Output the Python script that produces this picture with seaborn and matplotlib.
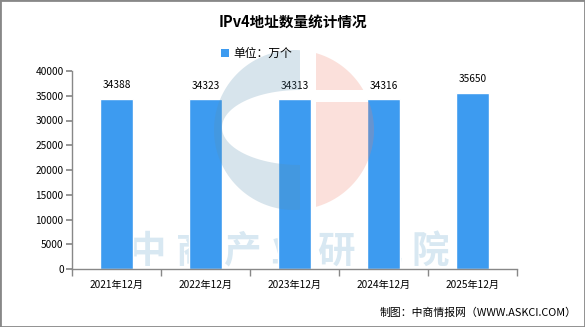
import matplotlib
matplotlib.use("Agg")
import matplotlib.pyplot as plt
import seaborn as sns
import pandas as pd
import numpy as np
from matplotlib.patches import Rectangle, Polygon

categories = ["2021年12月", "2022年12月", "2023年12月", "2024年12月", "2025年12月"]
values = [34388, 34323, 34313, 34316, 35650]
yticks = [0, 5000, 10000, 15000, 20000, 25000, 30000, 35000, 40000]
watermark = "中商产业研究院"

sns.set_theme(style="white")
plt.rcParams['font.family'] = ['Noto Sans CJK SC', 'DejaVu Sans']

df = pd.DataFrame({"cat": categories, "val": values})
fig = plt.figure(figsize=(5.85, 3.27), dpi=100)
fig.patch.set_facecolor("white")

# background watermark text
bg = fig.add_axes([0, 0, 1, 1], zorder=0)
bg.set_xlim(0, 585); bg.set_ylim(327, 0); bg.axis("off")
for k, ch in enumerate(watermark):
    bg.text(148 + 47 * k, 251, ch, fontsize=27, color="#d8e8f2", ha="center", va="center", fontweight="bold")

ax = fig.add_axes([72/585, 1-269/327, (517-72)/585, (269-71)/327], zorder=1)
ax.patch.set_alpha(0)
sns.barplot(data=df, x="cat", y="val", color="#3d9bf0", width=0.37, saturation=1, ax=ax, zorder=2)

ax.set_ylim(0, 40000)
ax.set_yticks(yticks)
ax.set_yticklabels([str(v) for v in yticks])
ax.set_xlim(-0.5, len(categories) - 0.5)
ax.set_xlabel(""); ax.set_ylabel("")
for s in ["top", "right"]:
    ax.spines[s].set_visible(False)
for s in ["left", "bottom"]:
    ax.spines[s].set_color("#888888")
    ax.spines[s].set_linewidth(1)
ax.tick_params(axis="y", which="both", left=True, length=4, color="#888888", labelsize=7.3, pad=2, labelcolor="black")
ax.set_xticks(range(len(categories)))
ax.set_xticklabels(categories, fontsize=7.3, color="black")
ax.tick_params(axis="x", which="major", length=0, pad=8)
ax.set_xticks([i - 0.5 for i in range(len(categories) + 1)], minor=True)
ax.tick_params(axis="x", which="minor", bottom=True, length=5, color="#888888")
ax.grid(False)

for i, v in enumerate(values):
    ax.text(i, v + 1700, str(v), ha="center", va="bottom", fontsize=7.3, color="black")

# overlay logo (semi-transparent, on top of bars)
ov = fig.add_axes([0, 0, 1, 1], zorder=3)
ov.set_xlim(0, 585); ov.set_ylim(327, 0); ov.axis("off"); ov.patch.set_alpha(0)
cx, cy, r = 294, 130, 80
t1 = np.degrees(np.arccos((300 - cx) / r))
th = np.radians(np.linspace(t1, 360 - t1, 80))
outer = np.column_stack([cx + r * np.cos(th), cy - r * np.sin(th)])
ph = np.radians(np.linspace(270, 90, 60))
ex, ey, ea, eb = 300, 127.5, 78, 37.5
inner = np.column_stack([ex + ea * np.cos(ph), ey - eb * np.sin(ph)])
blue_poly = np.vstack([outer, inner])
ov.add_patch(Polygon(blue_poly, closed=True, facecolor="#5a8fb0", alpha=0.24, edgecolor="none"))
def pink_piece(y0, y1):
    ys = np.linspace(y0, y1, 60)
    xs = cx + np.sqrt(np.clip(r**2 - (ys - cy)**2, 0, None))
    return np.vstack([[316, y0], np.column_stack([xs, ys]), [316, y1]])
ov.add_patch(Polygon(pink_piece(cy - np.sqrt(r**2 - 22**2), 90), closed=True, facecolor="#f0806a", alpha=0.24, edgecolor="none"))
ov.add_patch(Polygon(pink_piece(102, cy + np.sqrt(r**2 - 22**2)), closed=True, facecolor="#f0806a", alpha=0.24, edgecolor="none"))

fig.text(0.5, 1-22/327, "IPv4地址数量统计情况", ha="center", va="center", fontsize=10.5, fontweight="bold", color="black", zorder=5)
fig.add_artist(Rectangle((221/585, 1-57/327), 8/585, 8/327, transform=fig.transFigure, facecolor="#3d9bf0", edgecolor="none", zorder=5))
fig.text(233/585, 1-53/327, "单位：万个", ha="left", va="center", fontsize=8.5, color="black", zorder=5)
fig.text(577/585, 1-313/327, "制图：中商情报网（WWW.ASKCI.COM）", ha="right", va="center", fontsize=7.8, color="black", zorder=5)

fig.add_artist(Rectangle((0, 0), 1, 1, transform=fig.transFigure, fill=False, edgecolor="#888888", linewidth=2, zorder=6))

fig.savefig("out.png", dpi=100)
